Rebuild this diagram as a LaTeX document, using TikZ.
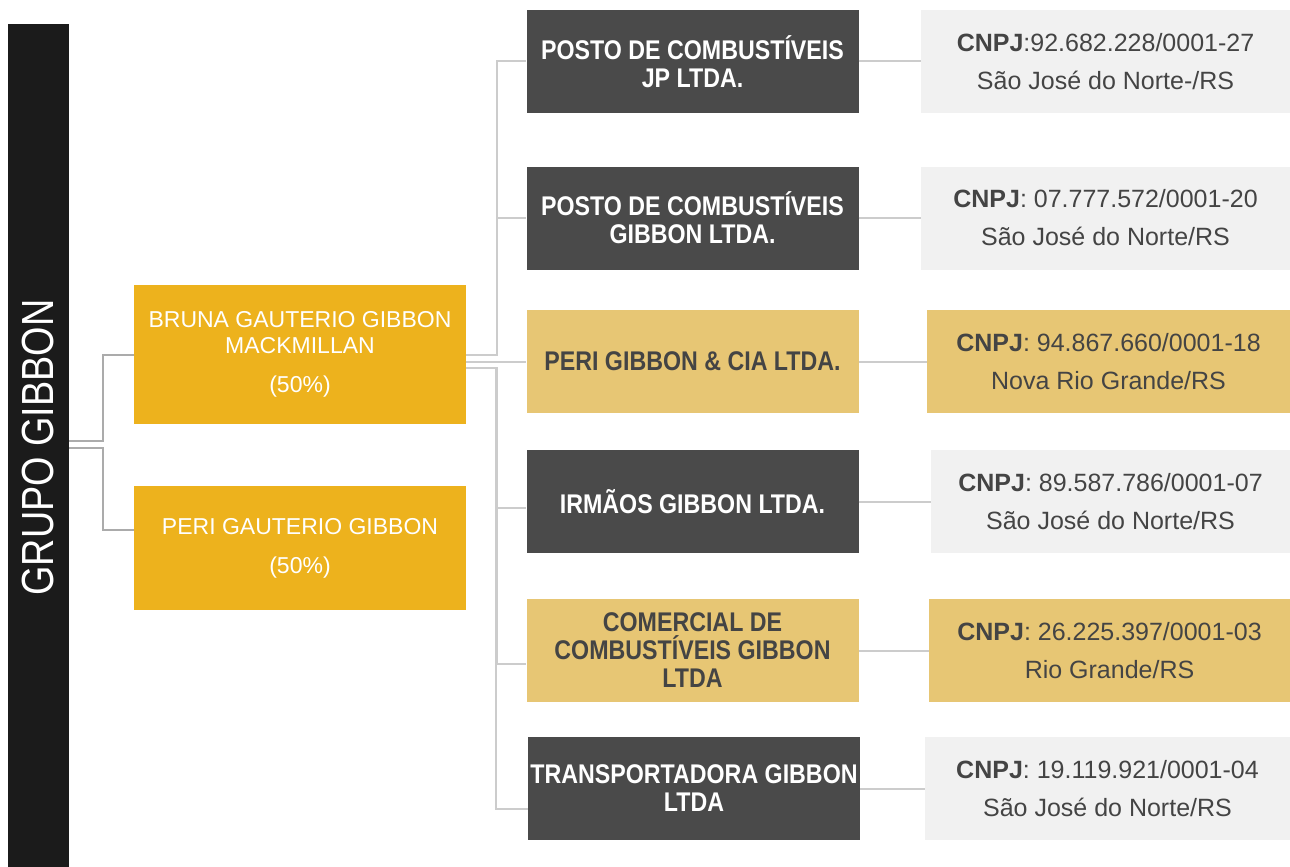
\documentclass[tikz,border=0pt]{standalone}
\usepackage{fontspec}
\setmainfont{Liberation Sans}
\newfontfamily\condfont[FakeStretch=0.86]{Liberation Sans}
\newfontfamily\titlefont[FakeStretch=0.84]{Liberation Sans}
\usetikzlibrary{calc}
\definecolor{barblack}{HTML}{1B1B1B}
\definecolor{gold}{HTML}{EDB21D}
\definecolor{lightgold}{HTML}{E7C674}
\definecolor{darkbox}{HTML}{4A4A4A}
\definecolor{lightgray}{HTML}{F1F1F1}
\definecolor{darktext}{HTML}{444444}
\definecolor{connA}{HTML}{ABABAB}
\definecolor{connB}{HTML}{CCCCCC}
\tikzset{
  box/.style={rectangle, inner sep=0pt, align=center, anchor=center},
  ownerbox/.style={box, fill=gold, text=white, minimum width=332pt, font=\fontsize{23}{27}\selectfont},
  midbox/.style={box, minimum width=332pt, minimum height=103pt, font=\condfont\bfseries\fontsize{27}{28}\selectfont},
  middark/.style={midbox, fill=darkbox, text=white},
  midgold/.style={midbox, fill=lightgold, text=darktext},
  infobox/.style={box, minimum height=103pt, text=darktext, font=\fontsize{25}{38}\selectfont},
  infogray/.style={infobox, fill=lightgray},
  infogold/.style={infobox, fill=lightgold},
  linkA/.style={draw=connA, line width=2pt},
  linkB/.style={draw=connB, line width=2pt}
}
\begin{document}
\begin{tikzpicture}[x=1pt,y=-1pt]
\useasboundingbox (0,0) rectangle (1290,867);
% left bar
\node[box, fill=barblack, minimum width=61pt, minimum height=843pt] (grupo) at (38.5,445.5) {};
\node[rotate=90, text=white, font=\titlefont\fontsize{45}{45}\selectfont, inner sep=0pt] (grupolabel) at (38.5,447.5) {GRUPO GIBBON};
% owners
\node[ownerbox, minimum height=139pt] (bruna) at (300,354.5) {BRUNA GAUTERIO GIBBON\\[-1pt]MACKMILLAN\\[12pt](50\%)};
\node[ownerbox, minimum height=124pt] (peri) at (300,548) {PERI GAUTERIO GIBBON\\[12pt](50\%)};
% middle companies
\node[middark] (c1) at (692.5,61.5) {POSTO DE COMBUSTÍVEIS\\JP LTDA.};
\node[middark] (c2) at (692.5,218) {POSTO DE COMBUSTÍVEIS\\GIBBON LTDA.};
\node[midgold] (c3) at (692.5,361.5) {PERI GIBBON \& CIA LTDA.};
\node[middark] (c4) at (692.5,501.5) {IRMÃOS GIBBON LTDA.};
\node[midgold] (c5) at (692.5,650.5) {COMERCIAL DE\\COMBUSTÍVEIS GIBBON\\LTDA};
\node[middark] (c6) at (694,788.5) {TRANSPORTADORA GIBBON\\LTDA};
% info boxes
\node[infogray, minimum width=369pt] (i1) at (1105.5,61.5) {\textbf{CNPJ}:92.682.228/0001-27\\São José do Norte-/RS};
\node[infogray, minimum width=369pt] (i2) at (1105.5,218) {\textbf{CNPJ}: 07.777.572/0001-20\\São José do Norte/RS};
\node[infogold, minimum width=363pt] (i3) at (1108.5,361.5) {\textbf{CNPJ}: 94.867.660/0001-18\\Nova Rio Grande/RS};
\node[infogray, minimum width=359pt] (i4) at (1110.5,501.5) {\textbf{CNPJ}: 89.587.786/0001-07\\São José do Norte/RS};
\node[infogold, minimum width=361pt] (i5) at (1109.5,650.5) {\textbf{CNPJ}: 26.225.397/0001-03\\Rio Grande/RS};
\node[infogray, minimum width=365pt] (i6) at (1107.5,788.5) {\textbf{CNPJ}: 19.119.921/0001-04\\São José do Norte/RS};
% connectors from group
\draw[linkA] ([yshift=4.5pt]grupo.east) -- ++(34,0) |- (bruna.west);
\draw[linkA] ([yshift=-2.5pt]grupo.east) -- ++(34,0) |- ([yshift=18pt]peri.west);
% connectors from bruna to companies
\draw[linkB] (bruna.east) -- ++(31,0) |- (c1.west);
\draw[linkB] (bruna.east) -- ++(31,0) |- (c2.west);
\draw[linkB] ([yshift=-7pt]bruna.east) -- ++(31,0) |- (c3.west);
\draw[linkB] ([yshift=-13.5pt]bruna.east) -- ++(31,0) |- ([yshift=-6.5pt]c4.west);
\draw[linkB] ([yshift=-13.5pt]bruna.east) -- ++(31,0) |- ([yshift=-13.5pt]c5.west);
\draw[linkB] ([yshift=-13.5pt]bruna.east) -- ++(30,0) |- ([yshift=-20.5pt]c6.west);
% connectors companies to info
\draw[linkB] (c1.east) -- (i1.west);
\draw[linkB] (c2.east) -- (i2.west);
\draw[linkB] (c3.east) -- (i3.west);
\draw[linkB] (c4.east) -- (i4.west);
\draw[linkB] (c5.east) -- (i5.west);
\draw[linkB] (c6.east) -- (i6.west);
\end{tikzpicture}
\end{document}
